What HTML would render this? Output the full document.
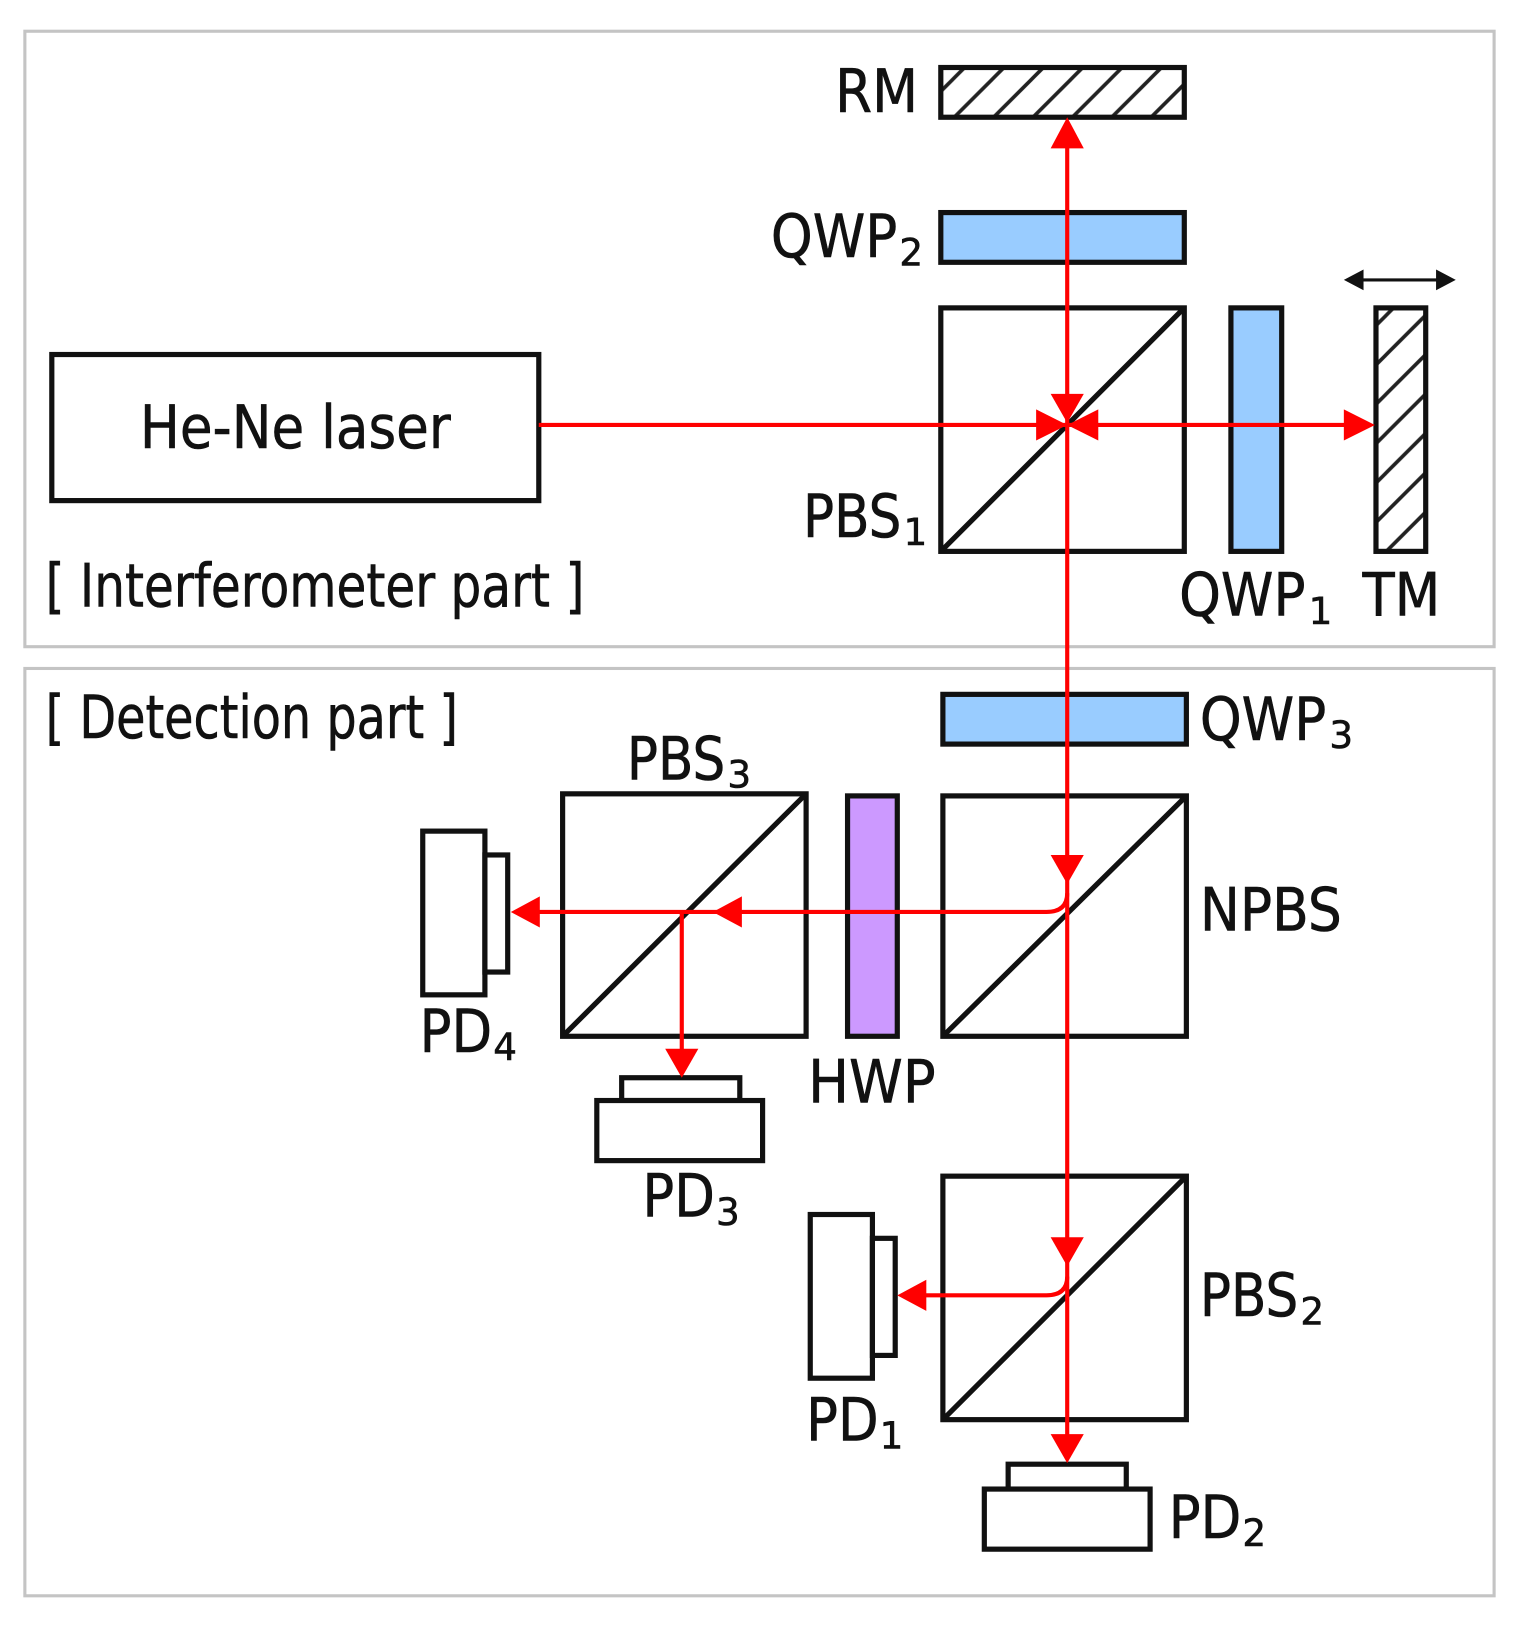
<!DOCTYPE html>
<html><head><meta charset="utf-8"><style>html,body{margin:0;padding:0;background:#fff}svg{display:block}</style></head>
<body>
<svg width="1520" height="1626" viewBox="0 0 1467 1569" xmlns="http://www.w3.org/2000/svg" font-family="'DejaVu Sans','Liberation Sans',sans-serif" fill="#111">
<defs>
<pattern id="h" patternUnits="userSpaceOnUse" width="38" height="38" patternTransform="translate(8,0)">
<rect width="38" height="38" fill="#fff"/>
<line x1="0" y1="38" x2="38" y2="0" stroke="#222" stroke-width="3.5"/>
<line x1="-19" y1="19" x2="19" y2="-19" stroke="#222" stroke-width="3.5"/>
<line x1="19" y1="57" x2="57" y2="19" stroke="#222" stroke-width="3.5"/>
</pattern>
</defs>
<rect width="1467" height="1569" fill="#fff"/>
<g fill="none" stroke="#c4c4c4" stroke-width="3">
<rect x="24" y="30" width="1418" height="594"/>
<rect x="24" y="645" width="1418" height="895"/>
</g>
<g stroke="#111" stroke-width="5">
<rect x="50" y="342" width="470" height="141" fill="#fff"/>
<rect x="908" y="65" width="235" height="48" fill="url(#h)"/>
<rect x="908" y="205" width="235" height="48" fill="#99ccff"/>
<rect x="908" y="297" width="235" height="235" fill="#fff"/>
<line x1="910" y1="530" x2="1141" y2="299"/>
<rect x="1188" y="297" width="49" height="235" fill="#99ccff"/>
<rect x="1328" y="297" width="48" height="235" fill="url(#h)"/>
<rect x="910" y="670" width="235" height="48" fill="#99ccff"/>
<rect x="910" y="768" width="235" height="232" fill="#fff"/>
<line x1="912" y1="998" x2="1143" y2="770"/>
<rect x="818" y="768" width="48" height="232" fill="#cc99ff"/>
<rect x="543" y="766" width="235" height="234" fill="#fff"/>
<line x1="545" y1="998" x2="776" y2="768"/>
<rect x="408" y="802" width="60" height="158" fill="#fff"/>
<rect x="468" y="825" width="22" height="113" fill="#fff"/>
<rect x="600" y="1040" width="114" height="22" fill="#fff"/>
<rect x="576" y="1062" width="160" height="58" fill="#fff"/>
<rect x="910" y="1135" width="235" height="235" fill="#fff"/>
<line x1="912" y1="1368" x2="1143" y2="1137"/>
<rect x="782" y="1172" width="60" height="158" fill="#fff"/>
<rect x="842" y="1195" width="22" height="113" fill="#fff"/>
<rect x="973" y="1413" width="114" height="24" fill="#fff"/>
<rect x="950" y="1437" width="160" height="58" fill="#fff"/>
</g>
<g stroke="#111" stroke-width="3"><line x1="1310" y1="270" x2="1392" y2="270"/></g>
<g fill="#111"><polygon points="1297,270 1316,260 1316,280"/><polygon points="1405,270 1386,260 1386,280"/></g>
<g stroke="#f00" stroke-width="4" fill="none">
<line x1="520" y1="410" x2="1318" y2="410"/>
<line x1="1030" y1="125" x2="1030" y2="1400"/>
<path d="M1030 862 Q1030 880 1010 880 L505 880"/>
<line x1="658" y1="880" x2="658" y2="1030"/>
<path d="M1030 1232 Q1030 1250 1010 1250 L878 1250"/>
</g>
<g fill="#f00">
<polygon points="1030,113 1014,143 1046,143"/>
<polygon points="1030,408 1014,380 1046,380"/>
<polygon points="1030,410 1000,395 1000,425"/>
<polygon points="1030,410 1060,395 1060,425"/>
<polygon points="1327,410 1297,395 1297,425"/>
<polygon points="1030,853 1014,825 1046,825"/>
<polygon points="493,880 521,865 521,895"/>
<polygon points="688,880 716,865 716,895"/>
<polygon points="658,1040 642,1012 674,1012"/>
<polygon points="1030,1222 1014,1194 1046,1194"/>
<polygon points="866,1250 894,1235 894,1265"/>
<polygon points="1030,1412 1014,1384 1046,1384"/>
</g>
<g font-size="58" stroke="#111" stroke-width="0.6">
<text x="135" y="432" textLength="300" lengthAdjust="spacingAndGlyphs">He-Ne laser</text>
<text x="44" y="585" textLength="520" lengthAdjust="spacingAndGlyphs">[ Interferometer part ]</text>
<text x="44" y="712" textLength="398" lengthAdjust="spacingAndGlyphs">[ Detection part ]</text>
<text x="806" y="108" textLength="80" lengthAdjust="spacingAndGlyphs">RM</text>
<text x="744" y="248" textLength="122" lengthAdjust="spacingAndGlyphs">QWP</text><text x="868" y="256" font-size="36">2</text>
<text x="775" y="518" textLength="95" lengthAdjust="spacingAndGlyphs">PBS</text><text x="872" y="526" font-size="36">1</text>
<text x="1138" y="594" textLength="122" lengthAdjust="spacingAndGlyphs">QWP</text><text x="1263" y="602" font-size="36">1</text>
<text x="1315" y="594" textLength="75" lengthAdjust="spacingAndGlyphs">TM</text>
<text x="1158" y="714" textLength="122" lengthAdjust="spacingAndGlyphs">QWP</text><text x="1283" y="722" font-size="36">3</text>
<text x="605" y="752" textLength="95" lengthAdjust="spacingAndGlyphs">PBS</text><text x="702" y="760" font-size="36">3</text>
<text x="1158" y="898" textLength="137" lengthAdjust="spacingAndGlyphs">NPBS</text>
<text x="405" y="1015" textLength="70" lengthAdjust="spacingAndGlyphs">PD</text><text x="476" y="1023" font-size="36">4</text>
<text x="780" y="1064" textLength="123" lengthAdjust="spacingAndGlyphs">HWP</text>
<text x="620" y="1174" textLength="70" lengthAdjust="spacingAndGlyphs">PD</text><text x="691" y="1182" font-size="36">3</text>
<text x="1158" y="1270" textLength="95" lengthAdjust="spacingAndGlyphs">PBS</text><text x="1255" y="1278" font-size="36">2</text>
<text x="778" y="1390" textLength="70" lengthAdjust="spacingAndGlyphs">PD</text><text x="849" y="1398" font-size="36">1</text>
<text x="1128" y="1484" textLength="70" lengthAdjust="spacingAndGlyphs">PD</text><text x="1199" y="1492" font-size="36">2</text>
</g>
</svg>
</body></html>
